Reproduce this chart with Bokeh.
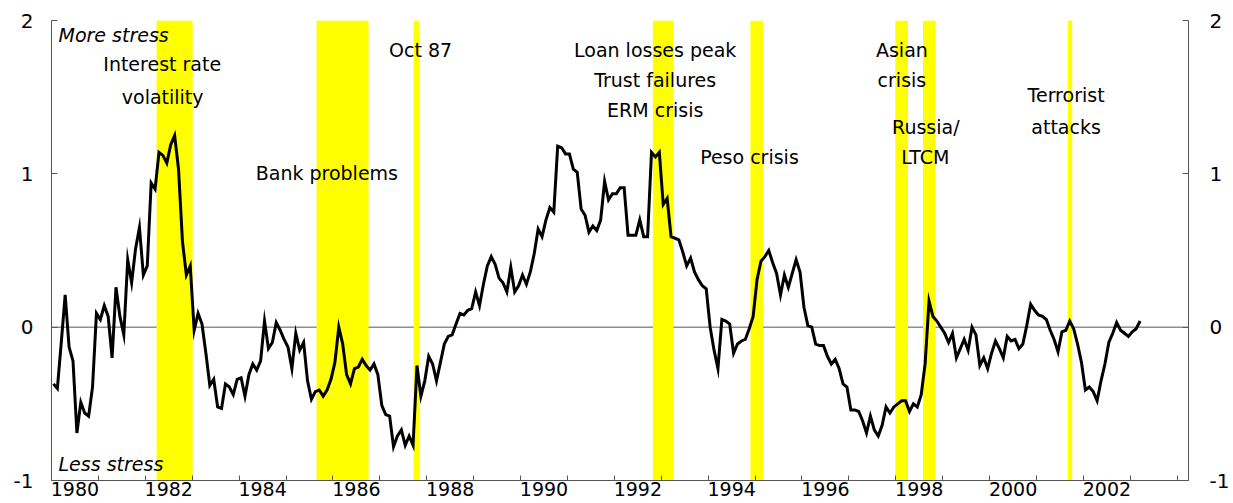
from bokeh.plotting import figure
from bokeh.models import Range1d, LinearAxis, FixedTicker, Span, ColumnDataSource
from bokeh.core.properties import value
from bokeh.embed import file_html
from bokeh.resources import INLINE

# ---------------- data ----------------
start_year = 1980
# monthly financial stress index, Jan 1980 .. Mar 2003
stress = [
    -0.37, -0.40, -0.10, 0.21, -0.13, -0.22, -0.69, -0.49, -0.56, -0.58, -0.39, 0.09,   # 1980
    0.05, 0.14, 0.07, -0.20, 0.26, 0.07, -0.05, 0.44, 0.29, 0.51, 0.65, 0.34,           # 1981
    0.40, 0.94, 0.90, 1.14, 1.12, 1.07, 1.19, 1.25, 1.03, 0.56, 0.34, 0.40,             # 1982
    -0.02, 0.09, 0.02, -0.17, -0.38, -0.34, -0.52, -0.53, -0.37, -0.39, -0.44, -0.34,   # 1983
    -0.33, -0.45, -0.31, -0.24, -0.28, -0.22, 0.04, -0.14, -0.10, 0.03, -0.02, -0.08,   # 1984
    -0.13, -0.27, -0.04, -0.15, -0.10, -0.35, -0.47, -0.42, -0.41, -0.45, -0.41, -0.34, # 1985
    -0.23, 0.00, -0.11, -0.31, -0.37, -0.27, -0.26, -0.21, -0.25, -0.28, -0.24, -0.31,  # 1986
    -0.51, -0.57, -0.58, -0.78, -0.71, -0.67, -0.77, -0.71, -0.77, -0.25, -0.45, -0.35, # 1987
    -0.19, -0.24, -0.35, -0.23, -0.11, -0.06, -0.05, 0.02, 0.09, 0.08, 0.11, 0.12,      # 1988
    0.23, 0.14, 0.28, 0.40, 0.46, 0.41, 0.32, 0.29, 0.23, 0.39, 0.23, 0.27,             # 1989
    0.34, 0.28, 0.36, 0.48, 0.64, 0.59, 0.70, 0.78, 0.75, 1.18, 1.17, 1.13,             # 1990
    1.13, 1.03, 1.01, 0.77, 0.73, 0.62, 0.66, 0.63, 0.70, 0.95, 0.83, 0.87,             # 1991
    0.87, 0.91, 0.91, 0.60, 0.60, 0.60, 0.70, 0.59, 0.59, 1.14, 1.11, 1.14,             # 1992
    0.80, 0.84, 0.59, 0.58, 0.57, 0.49, 0.40, 0.45, 0.36, 0.31, 0.27, 0.25,             # 1993
    0.00, -0.15, -0.27, 0.05, 0.04, 0.02, -0.17, -0.11, -0.09, -0.08, -0.01, 0.07,      # 1994
    0.31, 0.43, 0.46, 0.50, 0.42, 0.35, 0.21, 0.34, 0.26, 0.35, 0.44, 0.36,             # 1995
    0.13, 0.01, 0.00, -0.11, -0.12, -0.12, -0.19, -0.24, -0.21, -0.27, -0.37, -0.39,    # 1996
    -0.54, -0.54, -0.55, -0.61, -0.69, -0.58, -0.67, -0.71, -0.64, -0.52, -0.56, -0.52, # 1997
    -0.50, -0.48, -0.48, -0.55, -0.50, -0.52, -0.44, -0.24, 0.17, 0.07, 0.04, 0.00,     # 1998
    -0.04, -0.10, -0.04, -0.20, -0.14, -0.08, -0.15, 0.00, -0.05, -0.25, -0.20, -0.27,  # 1999
    -0.17, -0.09, -0.14, -0.20, -0.06, -0.09, -0.08, -0.14, -0.11, 0.01, 0.15, 0.11,    # 2000
    0.08, 0.07, 0.05, -0.02, -0.08, -0.16, -0.03, -0.02, 0.04, -0.01, -0.11, -0.23,     # 2001
    -0.41, -0.39, -0.42, -0.48, -0.35, -0.24, -0.10, -0.04, 0.03, -0.02, -0.04, -0.06,  # 2002
    -0.03, -0.01, 0.04,                                                                 # 2003
]
months = [start_year + (i + 0.5) / 12 for i in range(len(stress))]

# shaded stress episodes (decimal years)
band_start = [1982.24, 1985.65, 1987.72, 1992.82, 1994.90, 1997.99, 1998.58, 2001.67]
band_end = [1983.01, 1986.76, 1987.84, 1993.26, 1995.17, 1998.26, 1998.85, 2001.76]

# event annotations
note_text = ["Interest rate", "volatility", "Bank problems", "Oct 87",
             "Loan losses peak", "Trust failures", "ERM crisis", "Peso crisis",
             "Asian", "crisis", "Russia/", "LTCM", "Terrorist", "attacks"]
note_x = [1982.36, 1982.37, 1985.87, 1987.87, 1992.87, 1992.87, 1992.87, 1994.88,
          1998.13, 1998.13, 1998.64, 1998.63, 2001.63, 2001.63]
note_y = [1.716, 1.503, 1.007, 1.81, 1.81, 1.612, 1.416, 1.111,
          1.81, 1.612, 1.307, 1.111, 1.512, 1.307]

side_text = ["More stress", "Less stress"]
side_x = [1980.15, 1980.15]
side_y = [1.906, -0.89]

label_years = list(range(1980, 2003, 2))
y_ticks = [-1, 0, 1, 2]
y_labels = {-1: "-1", 0: "0", 1: "1", 2: "2"}

# ---------------- figure ----------------
FONT = "DejaVu Sans"
p = figure(width=1233, height=503, output_backend="svg", toolbar_location=None,
           x_range=Range1d(1980, 2004.24), y_range=Range1d(-1, 2),
           min_border_left=51, min_border_right=45, min_border_top=20,
           min_border_bottom=23, background_fill_color="white",
           border_fill_color="white")
p.outline_line_color = None
p.grid.visible = False
p.yaxis.visible = False

# bands
p.quad(left=band_start, right=band_end, bottom=-1, top=2,
       fill_color="#FFFF00", line_color=None)

# zero line
p.add_layout(Span(location=0, dimension="width", line_color="#555555",
                  line_width=1, level="underlay"))

# index line
p.line(months, stress, line_color="black", line_width=3, line_join="miter")

# annotations
src = ColumnDataSource(dict(x=note_x, y=note_y, text=note_text))
p.text(x="x", y="y", text="text", source=src, text_font=value(FONT),
       text_font_size=value("19px"), text_align="center",
       text_baseline="middle", text_color="black")
src2 = ColumnDataSource(dict(x=side_x, y=side_y, text=side_text))
p.text(x="x", y="y", text="text", source=src2, text_font=value(FONT),
       text_font_size=value("19px"), text_font_style="italic",
       text_align="left", text_baseline="middle", text_color="black")

# x axis
xa = p.xaxis[0]
xa.ticker = FixedTicker(ticks=[y + 0.5 for y in label_years],
                        minor_ticks=list(range(1980, 2005)))
xa.major_label_overrides = {y + 0.5: str(y) for y in label_years}
xa.major_tick_in = 0
xa.major_tick_out = 0
xa.minor_tick_in = 5
xa.minor_tick_out = 0
xa.axis_line_color = "#555555"
xa.minor_tick_line_color = "#555555"
xa.major_label_text_font = FONT
xa.major_label_text_font_size = "19px"
xa.major_label_text_color = "black"
xa.major_label_standoff = 1

# y axes
for side, standoff in (("left", 18), ("right", 21)):
    ax = LinearAxis(ticker=FixedTicker(ticks=y_ticks, minor_ticks=[]))
    ax.major_label_overrides = y_labels
    ax.major_tick_in = 6
    ax.major_tick_out = 0
    ax.minor_tick_in = 0
    ax.minor_tick_out = 0
    ax.axis_line_color = "#555555"
    ax.major_tick_line_color = "#555555"
    ax.major_label_text_font = FONT
    ax.major_label_text_font_size = "20px"
    ax.major_label_text_color = "black"
    ax.major_label_standoff = standoff
    p.add_layout(ax, side)

open("out.html", "w").write(file_html(p, INLINE))
